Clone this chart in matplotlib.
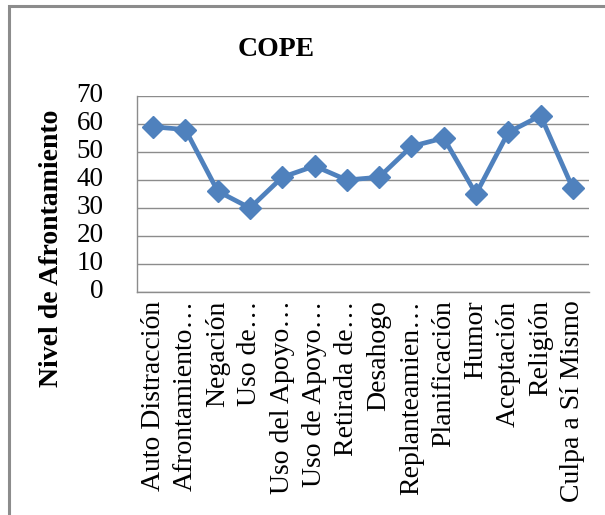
import matplotlib
matplotlib.use("Agg")
import matplotlib.pyplot as plt
from matplotlib.patches import Rectangle

categories = [
    "Auto Distracción", "Afrontamiento…", "Negación", "Uso de…",
    "Uso del Apoyo…", "Uso de Apoyo…", "Retirada de…", "Desahogo",
    "Replanteamien…", "Planificación", "Humor", "Aceptación",
    "Religión", "Culpa a Sí Mismo",
]
values = [59, 58, 36, 30, 41, 45, 40, 41, 52, 55, 35, 57, 63, 37]
yticks = [0, 10, 20, 30, 40, 50, 60, 70]

W, H = 605, 515
fig = plt.figure(figsize=(W / 100, H / 100), dpi=100)
fig.patch.set_facecolor("white")

serif = ["Liberation Serif", "DejaVu Serif"]

# chart-area frame (left and top edges visible)
fig.patches.append(Rectangle((9 / W, -0.1), 1.2, (H - 6) / H + 0.1,
                             transform=fig.transFigure, fill=False,
                             edgecolor="#8c8c8c", linewidth=2.2))

ax = fig.add_axes([137 / W, (H - 292) / H, 452 / W, 196 / H])
x = list(range(len(categories)))
ax.plot(x, values, color="#4F81BD", linewidth=3.4, marker="D",
        markersize=11.5, markeredgecolor="#4F81BD", zorder=3)

ax.set_xlim(-0.5, len(categories) - 0.5)
ax.set_ylim(0, 70)
ax.set_yticks(yticks)
ax.set_yticklabels([str(v) for v in yticks], fontfamily=serif, fontsize=19.5)
ax.set_xticks(x)
ax.set_xticklabels(categories, rotation=90, fontfamily=serif, fontsize=20)
ax.tick_params(axis="x", length=0, pad=6)
ax.tick_params(axis="y", length=0, pad=24)
for lbl in ax.get_yticklabels():
    lbl.set_verticalalignment("center")

ax.grid(axis="y", color="#8c8c8c", linewidth=1)
ax.set_axisbelow(True)
for s in ["top", "right"]:
    ax.spines[s].set_visible(False)
for s in ["left", "bottom"]:
    ax.spines[s].set_color("#8c8c8c")
    ax.spines[s].set_linewidth(1)

fig.text(52 / W, 1 - 248 / H, "Nivel de Afrontamiento", rotation=90,
         ha="center", va="center", fontfamily=serif, fontsize=20,
         fontweight="bold")
fig.text(276 / W, 1 - 49 / H, "COPE", ha="center", va="center",
         fontfamily=serif, fontsize=20, fontweight="bold")

fig.savefig("out.png", dpi=100, facecolor="white")
